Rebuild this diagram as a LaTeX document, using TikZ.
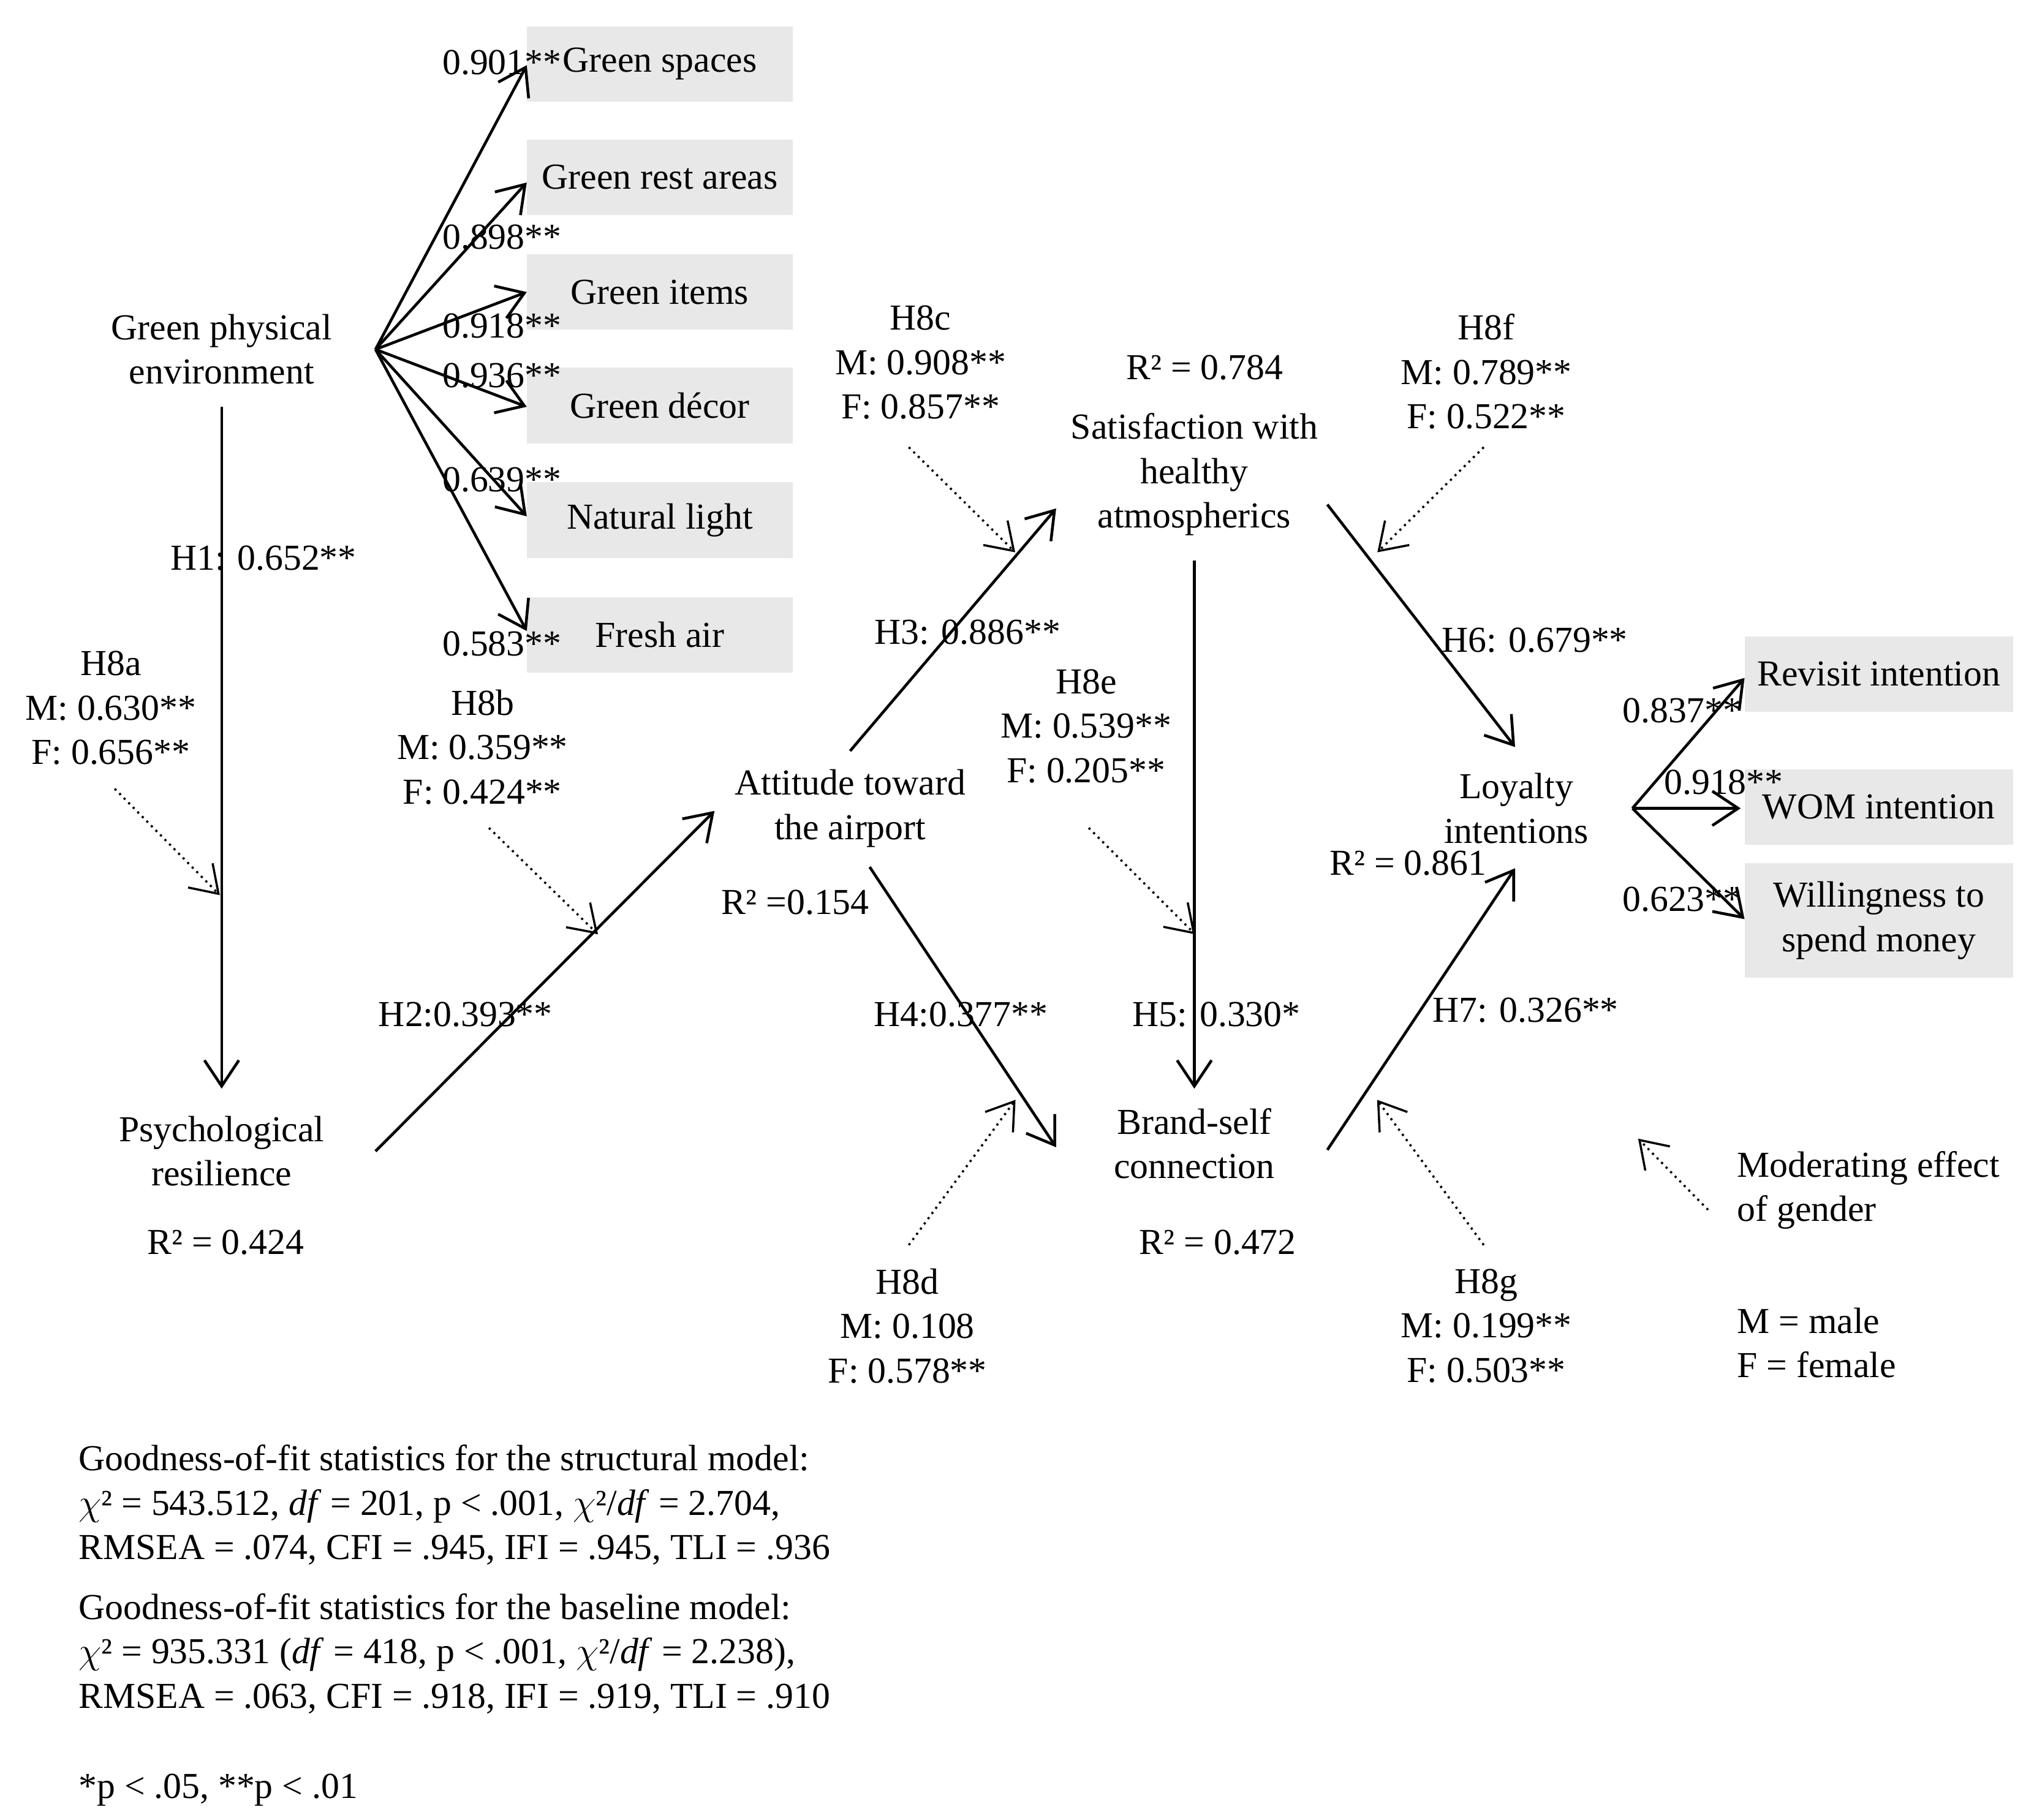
\documentclass[tikz,border=0pt]{standalone}
\usepackage{fontspec}
\setmainfont{Liberation Serif}
\usetikzlibrary{arrows.meta}
\begin{document}
\begin{tikzpicture}[x=0.02128cm,y=-0.02128cm,
  every node/.style={font=\fontsize{17}{20.6}\selectfont,inner sep=0pt,align=center},
  ar/.style={line width=1.3pt,-{Straight Barb[length=12pt,width=16pt,line width=1.3pt]}},
  dar/.style={line width=1pt,dotted,-{Straight Barb[length=12pt,width=16pt,line width=1pt,sep]},shorten >=0pt},
  box/.style={fill=gray!18,minimum width=204\pgflinewidth,anchor=north west}]
\useasboundingbox (0,0) rectangle (1560,1396);
% boxes
\foreach \n/\t/\a/\b in {gs/Green spaces/20/78, gr/Green rest areas/107/165, gi/Green items/195/253, gd/Green d\'ecor/282/340, nl/Natural light/370/428, fa/Fresh air/458/516}{
  \fill[gray!18] (404,\a) rectangle (608,\b);
  \node (\n) at (506,{(\a+\b)/2}) {\t};}
\foreach \n/\t/\a/\b in {ri/Revisit intention/488/546, wo/WOM intention/590/648, ws/Willingness to\\spend money/662/750}{
  \fill[gray!18] (1338,\a) rectangle (1544,\b);
  \node (\n) at (1441,{(\a+\b)/2}) {\t};}
% main nodes
\node (gpe) at (170,268) {Green physical\\environment};
\node (pr) at (170,883) {Psychological\\resilience};
\node (att) at (652,620) {Attitude toward\\the airport};
\node (sat) at (916,364) {Satisfaction with\\healthy\\atmospherics};
\node (bsc) at (916,877) {Brand-self\\connection};
\node (li) at (1163,620) {Loyalty\\intentions};
% coordinates
\coordinate (o) at (288,268);
\foreach \n/\y in {1/50,2/140,3/224,4/312,5/396,6/484}{\coordinate (e\n) at (404,\y);
  \draw[ar] (o) -- (e\n);}
\node at (385,48) {0.901**}; \node at (385,182) {0.898**}; \node at (385,250) {0.918**};
\node at (385,288) {0.936**}; \node at (385,368) {0.639**}; \node at (385,494) {0.583**};
% H1
\coordinate (h1a) at (170,312); \coordinate (h1b) at (170,835);
\draw[ar] (h1a) -- (h1b);
\node at (202,428) {H1: 0.652**};
\node (h8a) at (85,543) {H8a\\M: 0.630**\\F: 0.656**};
\coordinate (d1a) at (88,605); \coordinate (d1b) at (170,688); \draw[dar] (d1a) -- (d1b);
\node at (173,953) {R² = 0.424};
% H2
\coordinate (h2a) at (288,883); \coordinate (h2b) at (548,622); \draw[ar] (h2a) -- (h2b);
\node at (357,778) {H2:0.393**};
\node (h8b) at (370,573) {H8b\\M: 0.359**\\F: 0.424**};
\coordinate (d2a) at (375,635); \coordinate (d2b) at (460,718); \draw[dar] (d2a) -- (d2b);
\node at (610,692) {R² =0.154};
% H3
\coordinate (h3a) at (652,576); \coordinate (h3b) at (810,390); \draw[ar] (h3a) -- (h3b);
\node at (742,485) {H3: 0.886**};
\node (h8c) at (706,278) {H8c\\M: 0.908**\\F: 0.857**};
\coordinate (d3a) at (697,343); \coordinate (d3b) at (780,425); \draw[dar] (d3a) -- (d3b);
\node at (924,282) {R² = 0.784};
% H5
\coordinate (h5a) at (916,430); \coordinate (h5b) at (916,835); \draw[ar] (h5a) -- (h5b);
\node at (933,778) {H5: 0.330*};
\node (h8e) at (833,557) {H8e\\M: 0.539**\\F: 0.205**};
\coordinate (d5a) at (835,635); \coordinate (d5b) at (918,718); \draw[dar] (d5a) -- (d5b);
% H4
\coordinate (h4a) at (667,665); \coordinate (h4b) at (810,880); \draw[ar] (h4a) -- (h4b);
\node at (737,778) {H4:0.377**};
\node (h8d) at (696,1017) {H8d\\M: 0.108\\F: 0.578**};
\coordinate (d4a) at (697,955); \coordinate (d4b) at (780,842); \draw[dar] (d4a) -- (d4b);
\node at (934,953) {R² = 0.472};
% H6
\coordinate (h6a) at (1018,387); \coordinate (h6b) at (1162,573); \draw[ar] (h6a) -- (h6b);
\node at (1177,491) {H6: 0.679**};
\node (h8f) at (1140,285) {H8f\\M: 0.789**\\F: 0.522**};
\coordinate (d6a) at (1138,343); \coordinate (d6b) at (1055,425); \draw[dar] (d6a) -- (d6b);
\node at (1080,662) {R² = 0.861};
% H7
\coordinate (h7a) at (1018,882); \coordinate (h7b) at (1162,666); \draw[ar] (h7a) -- (h7b);
\node at (1170,775) {H7: 0.326**};
\node (h8g) at (1140,1017) {H8g\\M: 0.199**\\F: 0.503**};
\coordinate (d7a) at (1138,955); \coordinate (d7b) at (1055,842); \draw[dar] (d7a) -- (d7b);
% right
\coordinate (lo) at (1252,620);
\coordinate (r1) at (1338,520); \coordinate (r2) at (1335,620); \coordinate (r3) at (1338,705);
\draw[ar] (lo) -- (r1); \draw[ar] (lo) -- (r2); \draw[ar] (lo) -- (r3);
\node at (1290,545) {0.837**}; \node at (1322,600) {0.918**}; \node at (1290,690) {0.623**};
% legend
\coordinate (la) at (1310,928); \coordinate (lb) at (1255,872); \draw[dar] (la) -- (lb);
\node[anchor=west,align=left] (leg) at (1332,913) {Moderating effect\\of gender};
\node[anchor=west,align=left] (mf) at (1332,1030) {M = male\\F = female};
% bottom text
\node[anchor=north west,align=left] (fit) at (60,1108) {Goodness-of-fit statistics for the structural model:\\
$\chi$² = 543.512, \textit{df} = 201, p < .001, $\chi$²/\textit{df} = 2.704,\\
RMSEA = .074, CFI = .945, IFI = .945, TLI = .936};
\node[anchor=north west,align=left] (fit2) at (60,1222) {Goodness-of-fit statistics for the baseline model:\\
$\chi$² = 935.331 (\textit{df} = 418, p < .001, $\chi$²/\textit{df} = 2.238),\\
RMSEA = .063, CFI = .918, IFI = .919, TLI = .910};
\node[anchor=west] (sig) at (60,1373) {*p < .05, **p < .01};
\end{tikzpicture}
\end{document}
